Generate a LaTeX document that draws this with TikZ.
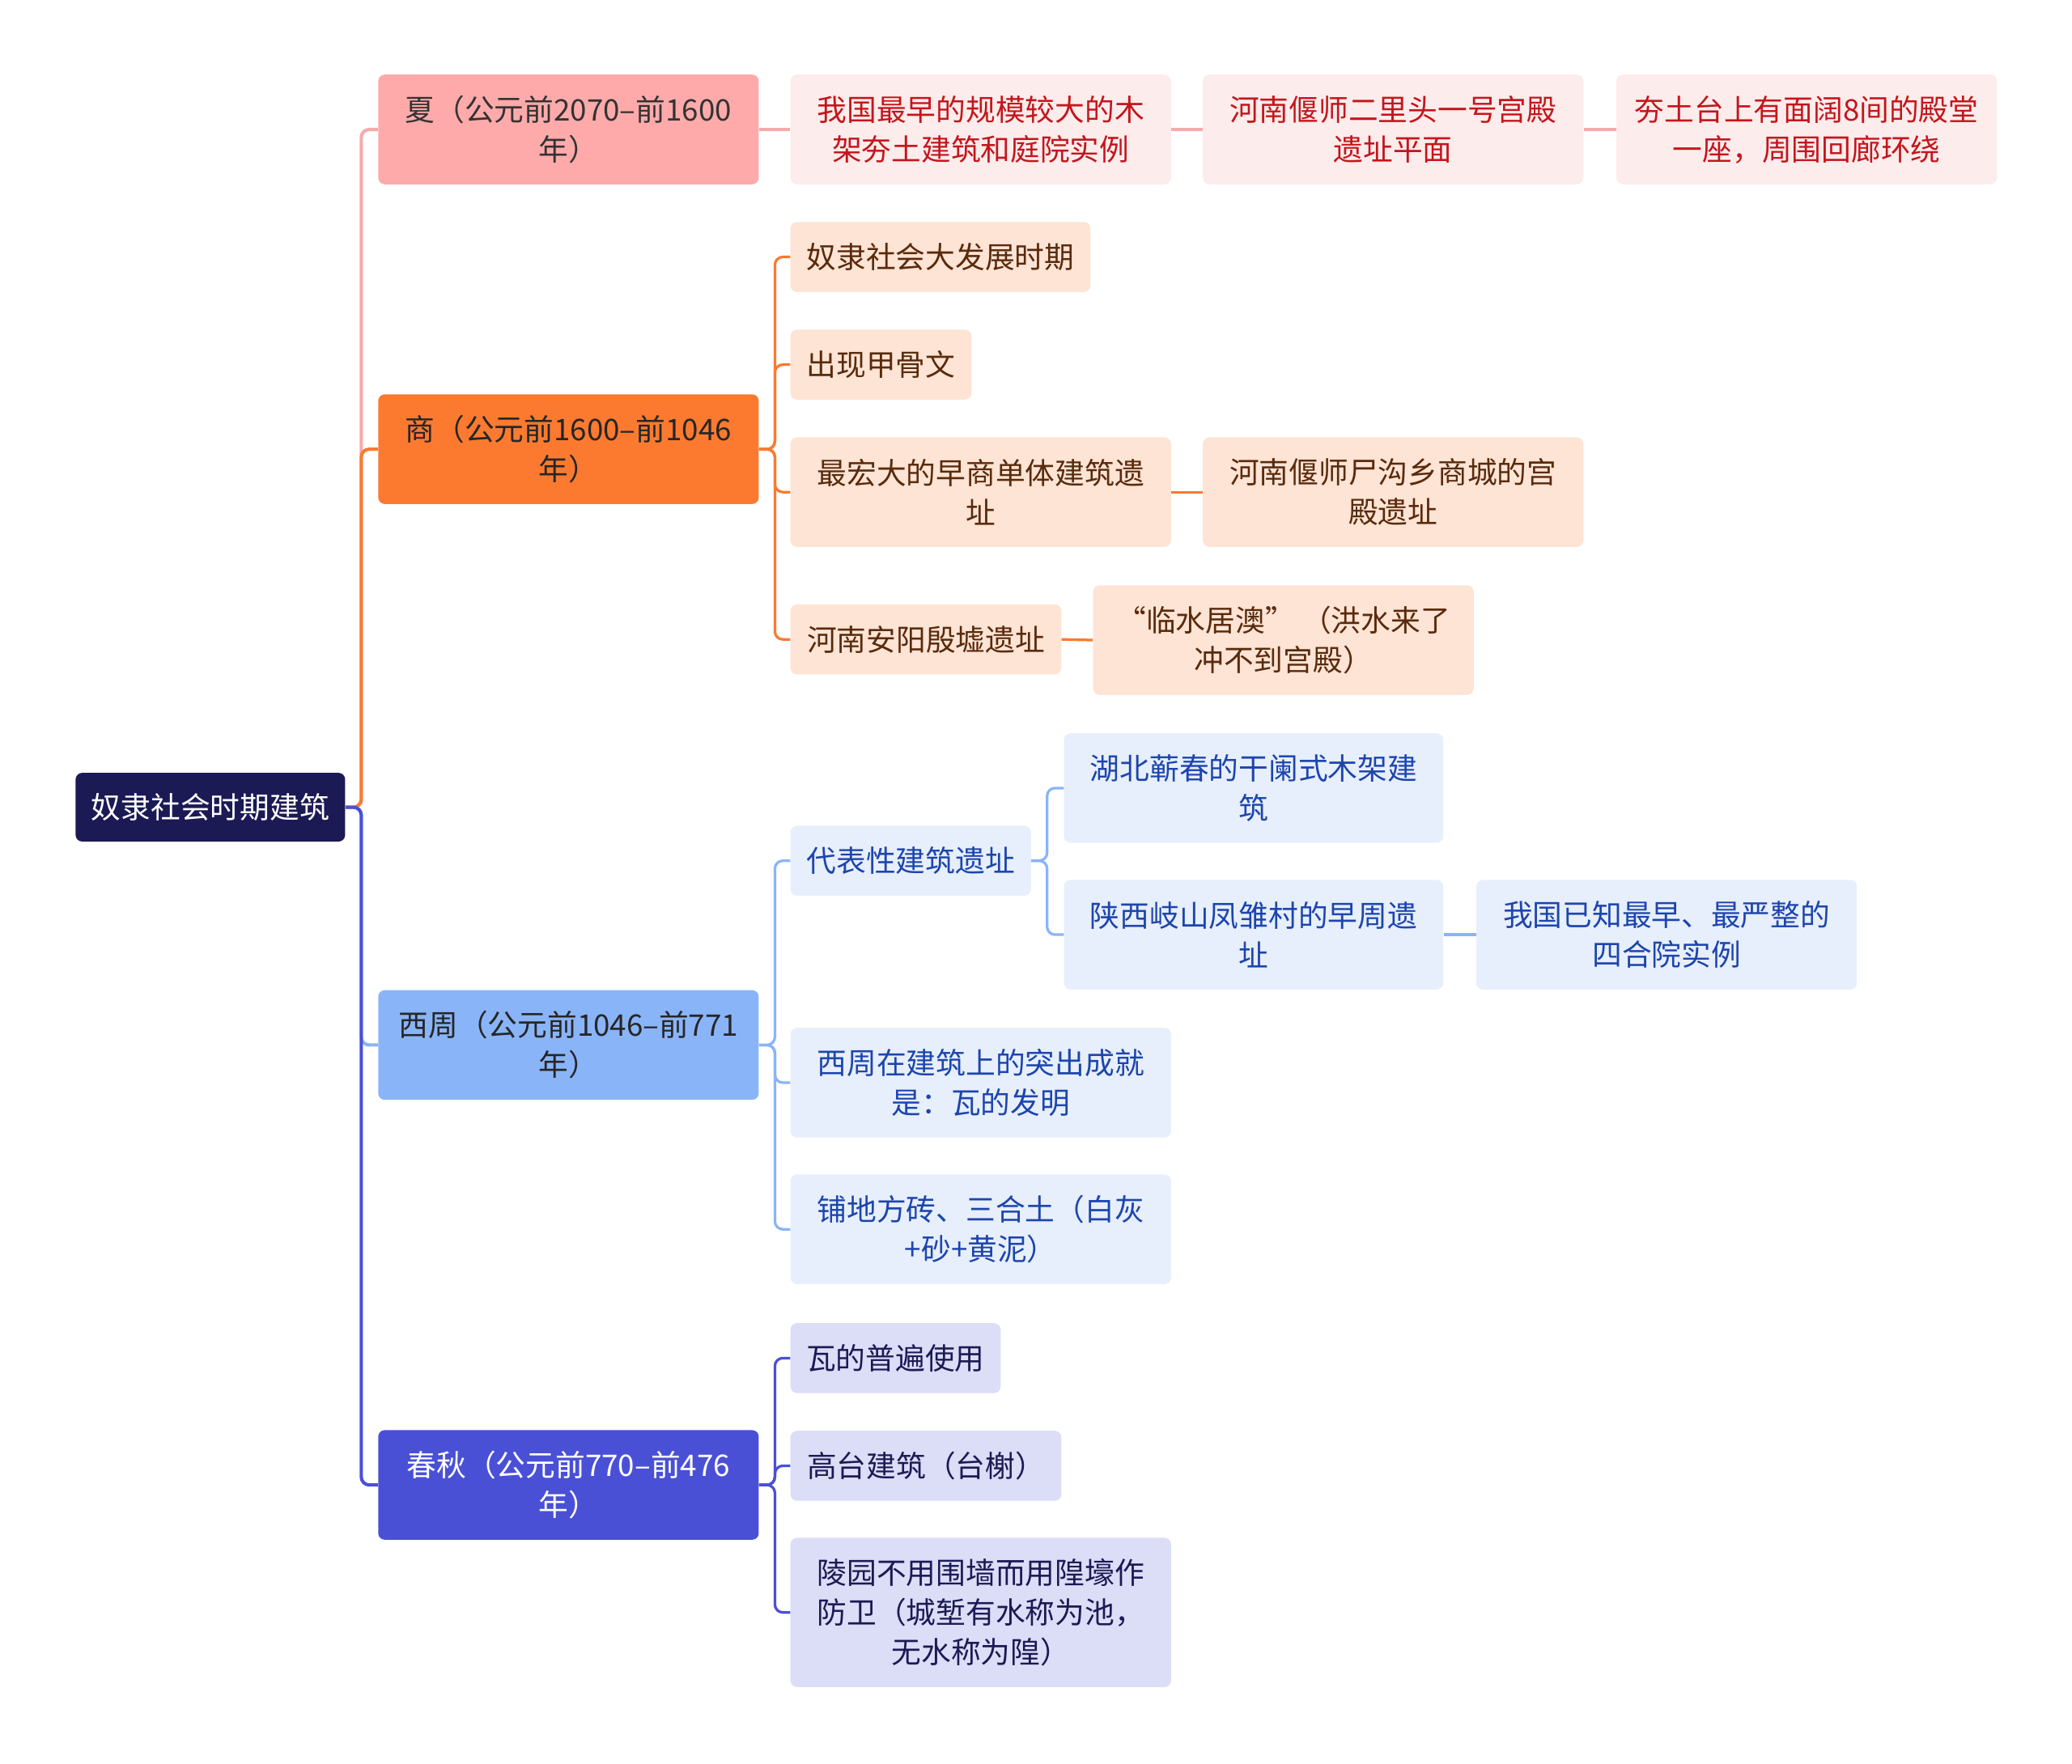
\documentclass[tikz,border=0pt]{standalone}
\usepackage{fontspec}
\setmainfont{Noto Sans CJK SC}
\definecolor{rootfill}{HTML}{1B1A55}
\definecolor{xiafill}{HTML}{FFAAAA}
\definecolor{xialine}{HTML}{F7A9AB}
\definecolor{xialeaf}{HTML}{FDECEC}
\definecolor{xiatext}{HTML}{C3161C}
\definecolor{shangfill}{HTML}{FB7A30}
\definecolor{shangleaf}{HTML}{FDE4D5}
\definecolor{shangtext}{HTML}{5A2A0C}
\definecolor{zhoufill}{HTML}{8AB4F8}
\definecolor{zhouleaf}{HTML}{E7EFFC}
\definecolor{zhoutext}{HTML}{1D45AD}
\definecolor{qiufill}{HTML}{4A50D6}
\definecolor{qiuleaf}{HTML}{DCDDF6}
\definecolor{qiutext}{HTML}{1B1A55}

\begin{document}
\begin{tikzpicture}[x=1pt,y=-1pt,
  box/.style={rounded corners=5pt,inner sep=0pt,align=center,anchor=west,
    font=\fontsize{22.5}{30}\selectfont},
  era/.style={box,minimum width=288pt,minimum height=83pt},
  leaf/.style={box,minimum height=53pt},
  wide/.style={box,minimum width=288pt,minimum height=83pt},
  trunk/.style={line width=2.5pt,rounded corners=6pt},
  twig/.style={line width=2pt,rounded corners=6pt}]
\useasboundingbox (0,0) rectangle (1568,1335);

% root and eras
\node[box,fill=rootfill,text=white,minimum width=204pt,minimum height=52pt] (root) at (57,611) {奴隶社会时期建筑};
\node[era,fill=xiafill,text=black!80] (xia) at (286,98) {夏（公元前2070–前1600\\年）};
\node[era,fill=shangfill,text=black!85] (shang) at (286,340) {商（公元前1600–前1046\\年）};
\node[era,fill=zhoufill,text=black!85] (zhou) at (286,791) {西周（公元前1046–前771\\年）};
\node[era,fill=qiufill,text=white] (qiu) at (286,1124) {春秋（公元前770–前476\\年）};

\draw[xialine,trunk] (root.east) -- ++(12,0) |- (xia.west);
\draw[shangfill,trunk] (root.east) -- ++(12,0) |- (shang.west);
\draw[zhoufill,trunk] (root.east) -- ++(12,0) |- (zhou.west);
\draw[qiufill,trunk] (root.east) -- ++(12,0) |- (qiu.west);

% xia
\node[wide,fill=xialeaf,text=xiatext] (x1) at (598,98) {我国最早的规模较大的木\\架夯土建筑和庭院实例};
\node[wide,fill=xialeaf,text=xiatext] (x2) at (910,98) {河南偃师二里头一号宫殿\\遗址平面};
\node[wide,fill=xialeaf,text=xiatext] (x3) at (1223,98) {夯土台上有面阔8间的殿堂\\一座，周围回廊环绕};
\draw[xialine,twig] (xia.east) -- (x1.west);
\draw[xialine,twig] (x1.east) -- (x2.west);
\draw[xialine,twig] (x2.east) -- (x3.west);

% shang
\node[leaf,fill=shangleaf,text=shangtext,minimum width=227pt] (s1) at (598,194.5) {奴隶社会大发展时期};
\node[leaf,fill=shangleaf,text=shangtext,minimum width=137pt] (s2) at (598,276) {出现甲骨文};
\node[wide,fill=shangleaf,text=shangtext] (s3) at (598,372.5) {最宏大的早商单体建筑遗\\址};
\node[wide,fill=shangleaf,text=shangtext] (s3a) at (910,372.5) {河南偃师尸沟乡商城的宫\\殿遗址};
\node[leaf,fill=shangleaf,text=shangtext,minimum width=205pt] (s4) at (598,484) {河南安阳殷墟遗址};
\node[wide,fill=shangleaf,text=shangtext] (s4a) at (827,484.5) {“临水居澳” （洪水来了\\冲不到宫殿）};
\foreach \n in {s1,s2,s3,s4}
  \draw[shangfill,twig] (shang.east) -- ++(12,0) |- (\n.west);
\draw[shangfill,twig] (s3.east) -- (s3a.west);
\draw[shangfill,twig] (s4.east) -- (s4a.west);

% xi zhou
\node[leaf,fill=zhouleaf,text=zhoutext,minimum width=182pt] (z1) at (598,651.5) {代表性建筑遗址};
\node[wide,fill=zhouleaf,text=zhoutext,minimum width=287pt] (z1a) at (805,596.5) {湖北蕲春的干阑式木架建\\筑};
\node[wide,fill=zhouleaf,text=zhoutext,minimum width=287pt] (z1b) at (805,707.5) {陕西岐山凤雏村的早周遗\\址};
\node[wide,fill=zhouleaf,text=zhoutext] (z1c) at (1117,707.5) {我国已知最早、最严整的\\四合院实例};
\node[wide,fill=zhouleaf,text=zhoutext] (z2) at (598,819.5) {西周在建筑上的突出成就\\是：瓦的发明};
\node[wide,fill=zhouleaf,text=zhoutext] (z3) at (598,930.5) {铺地方砖、三合土（白灰\\+砂+黄泥）};
\foreach \n in {z1,z2,z3}
  \draw[zhoufill,twig] (zhou.east) -- ++(12,0) |- (\n.west);
\foreach \n in {z1a,z1b}
  \draw[zhoufill,twig] (z1.east) -- ++(12,0) |- (\n.west);
\draw[zhoufill,twig] (z1b.east) -- (z1c.west);

% chun qiu
\node[leaf,fill=qiuleaf,text=qiutext,minimum width=159pt] (q1) at (598,1028) {瓦的普遍使用};
\node[leaf,fill=qiuleaf,text=qiutext,minimum width=205pt] (q2) at (598,1109.5) {高台建筑（台榭）};
\node[box,fill=qiuleaf,text=qiutext,minimum width=288pt,minimum height=113pt] (q3) at (598,1220.5) {陵园不用围墙而用隍壕作\\防卫（城堑有水称为池，\\无水称为隍）};
\foreach \n in {q1,q2,q3}
  \draw[qiufill,twig] (qiu.east) -- ++(12,0) |- (\n.west);
\end{tikzpicture}
\end{document}
